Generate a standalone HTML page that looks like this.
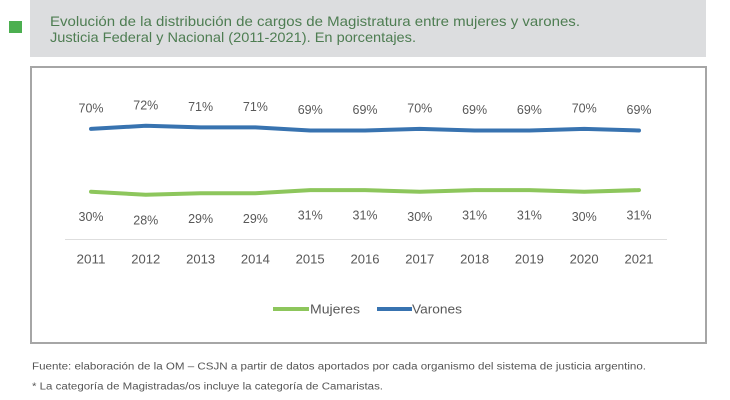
<!DOCTYPE html>
<html><head><meta charset="utf-8"><style>
html,body{margin:0;padding:0;background:#fff;}
svg{display:block;}
</style></head><body>
<svg width="730" height="400" viewBox="0 0 730 400" xmlns="http://www.w3.org/2000/svg" font-family="Liberation Sans, sans-serif">
<rect x="0" y="0" width="730" height="400" fill="#fff"/>
<rect x="30" y="0" width="676" height="57" fill="#dcdddf"/>
<rect x="9" y="21" width="13" height="12" fill="#4caf50"/>
<text x="50" y="26" font-size="14" fill="#4e7d52" textLength="530" lengthAdjust="spacingAndGlyphs">Evolución de la distribución de cargos de Magistratura entre mujeres y varones.</text>
<text x="50" y="42" font-size="14" fill="#4e7d52" textLength="366" lengthAdjust="spacingAndGlyphs">Justicia Federal y Nacional (2011-2021). En porcentajes.</text>
<rect x="31" y="67" width="675" height="276" fill="#fff" stroke="#a6a6a6" stroke-width="2"/>
<line x1="65" y1="239.5" x2="667" y2="239.5" stroke="#dedede" stroke-width="1"/>
<polyline fill="none" stroke="#3873b0" stroke-width="4" stroke-linejoin="round" stroke-linecap="round" points="91,128.9 145.8,125.8 200.6,127.4 255.4,127.4 310.2,130.5 365,130.5 419.8,128.9 474.6,130.5 529.4,130.5 584.2,128.9 639,130.5"/>
<polyline fill="none" stroke="#8dc65c" stroke-width="4" stroke-linejoin="round" stroke-linecap="round" points="91,191.7 145.8,194.8 200.6,193.3 255.4,193.3 310.2,190.1 365,190.1 419.8,191.7 474.6,190.1 529.4,190.1 584.2,191.7 639,190.1"/>
<g font-size="13" fill="#595959" text-anchor="middle">
<text x="91" y="112.4" textLength="25" lengthAdjust="spacingAndGlyphs">70%</text>
<text x="145.8" y="109.3" textLength="25" lengthAdjust="spacingAndGlyphs">72%</text>
<text x="200.6" y="110.9" textLength="25" lengthAdjust="spacingAndGlyphs">71%</text>
<text x="255.4" y="110.9" textLength="25" lengthAdjust="spacingAndGlyphs">71%</text>
<text x="310.2" y="114" textLength="25" lengthAdjust="spacingAndGlyphs">69%</text>
<text x="365" y="114" textLength="25" lengthAdjust="spacingAndGlyphs">69%</text>
<text x="419.8" y="112.4" textLength="25" lengthAdjust="spacingAndGlyphs">70%</text>
<text x="474.6" y="114" textLength="25" lengthAdjust="spacingAndGlyphs">69%</text>
<text x="529.4" y="114" textLength="25" lengthAdjust="spacingAndGlyphs">69%</text>
<text x="584.2" y="112.4" textLength="25" lengthAdjust="spacingAndGlyphs">70%</text>
<text x="639" y="114" textLength="25" lengthAdjust="spacingAndGlyphs">69%</text>
<text x="91" y="221.2" textLength="25" lengthAdjust="spacingAndGlyphs">30%</text>
<text x="145.8" y="224.3" textLength="25" lengthAdjust="spacingAndGlyphs">28%</text>
<text x="200.6" y="222.8" textLength="25" lengthAdjust="spacingAndGlyphs">29%</text>
<text x="255.4" y="222.8" textLength="25" lengthAdjust="spacingAndGlyphs">29%</text>
<text x="310.2" y="219.6" textLength="25" lengthAdjust="spacingAndGlyphs">31%</text>
<text x="365" y="219.6" textLength="25" lengthAdjust="spacingAndGlyphs">31%</text>
<text x="419.8" y="221.2" textLength="25" lengthAdjust="spacingAndGlyphs">30%</text>
<text x="474.6" y="219.6" textLength="25" lengthAdjust="spacingAndGlyphs">31%</text>
<text x="529.4" y="219.6" textLength="25" lengthAdjust="spacingAndGlyphs">31%</text>
<text x="584.2" y="221.2" textLength="25" lengthAdjust="spacingAndGlyphs">30%</text>
<text x="639" y="219.6" textLength="25" lengthAdjust="spacingAndGlyphs">31%</text>
<text x="91" y="263.5" textLength="29" lengthAdjust="spacingAndGlyphs">2011</text>
<text x="145.8" y="263.5" textLength="29" lengthAdjust="spacingAndGlyphs">2012</text>
<text x="200.6" y="263.5" textLength="29" lengthAdjust="spacingAndGlyphs">2013</text>
<text x="255.4" y="263.5" textLength="29" lengthAdjust="spacingAndGlyphs">2014</text>
<text x="310.2" y="263.5" textLength="29" lengthAdjust="spacingAndGlyphs">2015</text>
<text x="365" y="263.5" textLength="29" lengthAdjust="spacingAndGlyphs">2016</text>
<text x="419.8" y="263.5" textLength="29" lengthAdjust="spacingAndGlyphs">2017</text>
<text x="474.6" y="263.5" textLength="29" lengthAdjust="spacingAndGlyphs">2018</text>
<text x="529.4" y="263.5" textLength="29" lengthAdjust="spacingAndGlyphs">2019</text>
<text x="584.2" y="263.5" textLength="29" lengthAdjust="spacingAndGlyphs">2020</text>
<text x="639" y="263.5" textLength="29" lengthAdjust="spacingAndGlyphs">2021</text>
</g>
<line x1="273" y1="309" x2="309" y2="309" stroke="#8dc65c" stroke-width="4"/>
<text x="310" y="313.5" font-size="13" fill="#595959" textLength="50" lengthAdjust="spacingAndGlyphs">Mujeres</text>
<line x1="377" y1="309" x2="412" y2="309" stroke="#3873b0" stroke-width="4"/>
<text x="412" y="313.5" font-size="13" fill="#595959" textLength="50" lengthAdjust="spacingAndGlyphs">Varones</text>
<text x="32" y="369.5" font-size="10" fill="#555" textLength="614" lengthAdjust="spacingAndGlyphs">Fuente: elaboración de la OM – CSJN a partir de datos aportados por cada organismo del sistema de justicia argentino.</text>
<text x="32" y="389.5" font-size="10" fill="#555" textLength="351" lengthAdjust="spacingAndGlyphs">* La categoría de Magistradas/os incluye la categoría de Camaristas.</text>
</svg>
</body></html>
